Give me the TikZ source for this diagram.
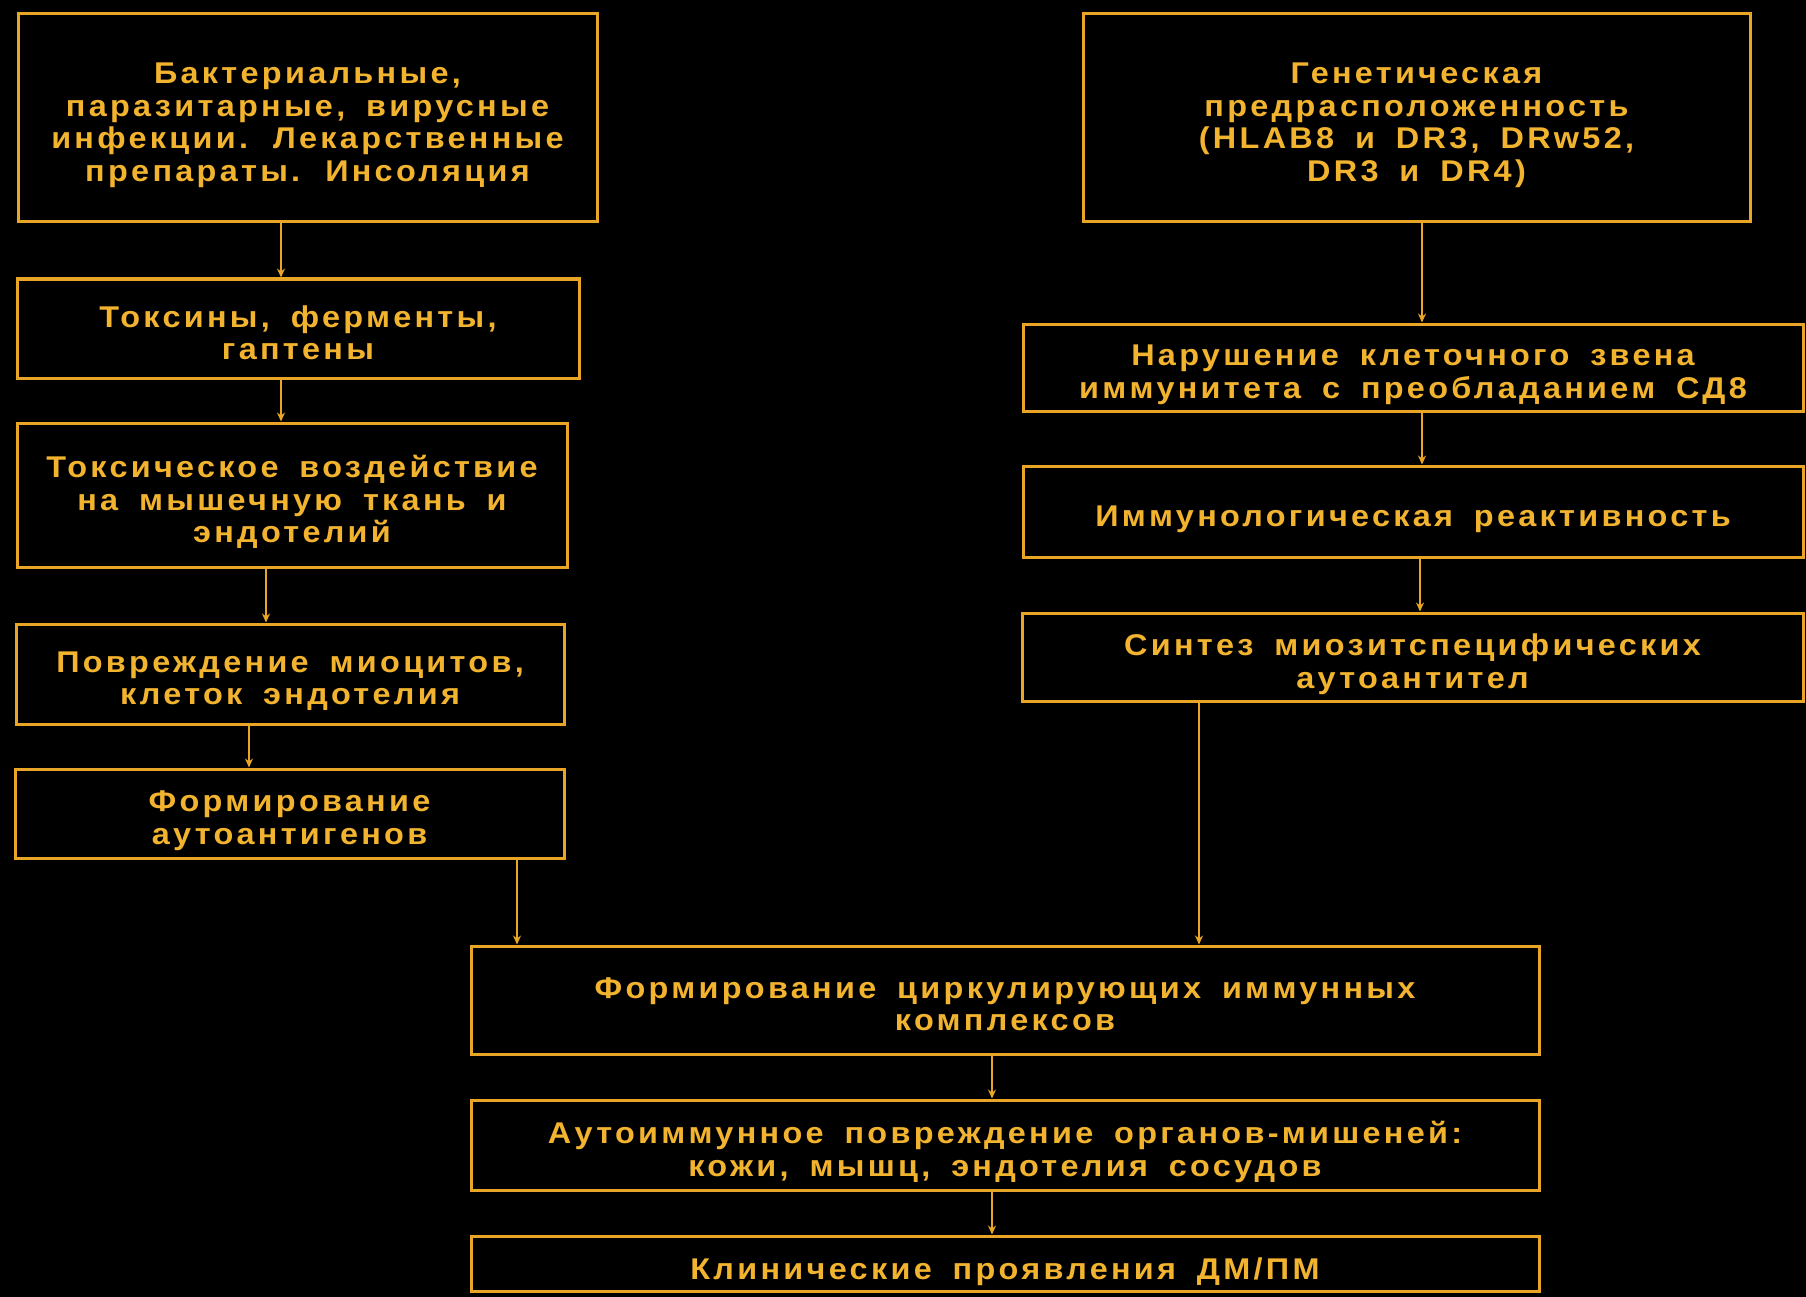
\documentclass[tikz,border=0pt]{standalone}
\usepackage{fontspec}
\setmainfont{Liberation Sans}[BoldFont={Liberation Sans Bold}, BoldFeatures={FakeStretch=1.08}, LetterSpace=11, WordSpace=1.7]
\usetikzlibrary{arrows.meta}
\definecolor{gold}{HTML}{F2B32E}
\definecolor{goldline}{HTML}{E9A526}
\begin{document}
\begin{tikzpicture}[x=1pt,y=-1pt,
  box/.style={draw=goldline, line width=3pt, rectangle, inner sep=0pt},
  txt/.style={inner sep=0pt, align=center, text=gold,
    font=\fontsize{30}{32.5}\selectfont\bfseries, text depth=0pt},
  arr/.style={draw=goldline, line width=2.6pt, -{Stealth[length=9pt,width=8pt]}}]
\fill[black] (0,0) rectangle (1806,1297);
\useasboundingbox (0,0) rectangle (1806,1297);
% left column
\node[box, minimum width=579pt, minimum height=208pt] (b1) at (307.5,118) {};
\node[box, minimum width=562pt, minimum height=99pt] (b2) at (298,328.5) {};
\node[box, minimum width=550pt, minimum height=144pt] (b3) at (292,495) {};
\node[box, minimum width=548pt, minimum height=100pt] (b4) at (290,674) {};
\node[box, minimum width=549pt, minimum height=89pt] (b5) at (289.5,813.5) {};
% right column
\node[box, minimum width=667pt, minimum height=208pt] (r1) at (1416.5,118) {};
\node[box, minimum width=780pt, minimum height=87pt] (r2) at (1413,367.5) {};
\node[box, minimum width=780pt, minimum height=91pt] (r3) at (1413,511.5) {};
\node[box, minimum width=781pt, minimum height=88pt] (r4) at (1412.5,657) {};
% center bottom
\node[box, minimum width=1068pt, minimum height=108pt] (c1) at (1005,1000) {};
\node[box, minimum width=1068pt, minimum height=90pt] (c2) at (1005,1145) {};
\node[box, minimum width=1068pt, minimum height=55pt] (c3) at (1005,1263.5) {};
% texts
\node[txt] (b1t) at ([yshift=-4pt]b1.center)
  {Бактериальные,\\паразитарные, вирусные\\инфекции. Лекарственные\\препараты. Инсоляция};
\node[txt] (b2t) at ([yshift=-4pt]b2.center) {Токсины, ферменты,\\гаптены};
\node[txt] (b3t) at ([yshift=-4pt]b3.center)
  {Токсическое воздействие\\на мышечную ткань и\\эндотелий};
\node[txt] (b4t) at ([yshift=-4pt]b4.center) {Повреждение миоцитов,\\клеток эндотелия};
\node[txt] (b5t) at ([yshift=-4pt]b5.center) {Формирование\\аутоантигенов};
\node[txt] (r1t) at ([yshift=-4pt]r1.center)
  {Генетическая\\предрасположенность\\(HLAB8 и DR3, DRw52,\\DR3 и DR4)};
\node[txt] (r2t) at ([yshift=-4pt]r2.center)
  {Нарушение клеточного звена\\иммунитета с преобладанием СД8};
\node[txt] (r3t) at ([yshift=-5pt]r3.center) {Иммунологическая реактивность};
\node[txt] (r4t) at ([yshift=-4pt]r4.center) {Синтез миозитспецифических\\аутоантител};
\node[txt] (c1t) at ([yshift=-4pt]c1.center)
  {Формирование циркулирующих иммунных\\комплексов};
\node[txt] (c2t) at ([yshift=-4pt]c2.center)
  {Аутоиммунное повреждение органов-мишеней:\\кожи, мышц, эндотелия сосудов};
\node[txt] (c3t) at ([yshift=-5pt]c3.center) {Клинические проявления ДМ/ПМ};
% connectors
\draw[arr] ([xshift=-26.5pt]b1.south) -- ([xshift=-17pt]b2.north);
\draw[arr] ([xshift=-17pt]b2.south) -- ([xshift=-11pt]b3.north);
\draw[arr] ([xshift=-26pt]b3.south) -- ([xshift=-24pt]b4.north);
\draw[arr] ([xshift=-41pt]b4.south) -- ([xshift=-40.5pt]b5.north);
\draw[arr] ([xshift=227.5pt]b5.south) -- ([xshift=-488pt]c1.north);
\draw[arr] ([xshift=5.5pt]r1.south) -- ([xshift=9pt]r2.north);
\draw[arr] ([xshift=9pt]r2.south) -- ([xshift=9pt]r3.north);
\draw[arr] ([xshift=7pt]r3.south) -- ([xshift=7.5pt]r4.north);
\draw[arr] ([xshift=-213.5pt]r4.south) -- ([xshift=194pt]c1.north);
\draw[arr] ([xshift=-13pt]c1.south) -- ([xshift=-13pt]c2.north);
\draw[arr] ([xshift=-13pt]c2.south) -- ([xshift=-13pt]c3.north);
\end{tikzpicture}
\end{document}
